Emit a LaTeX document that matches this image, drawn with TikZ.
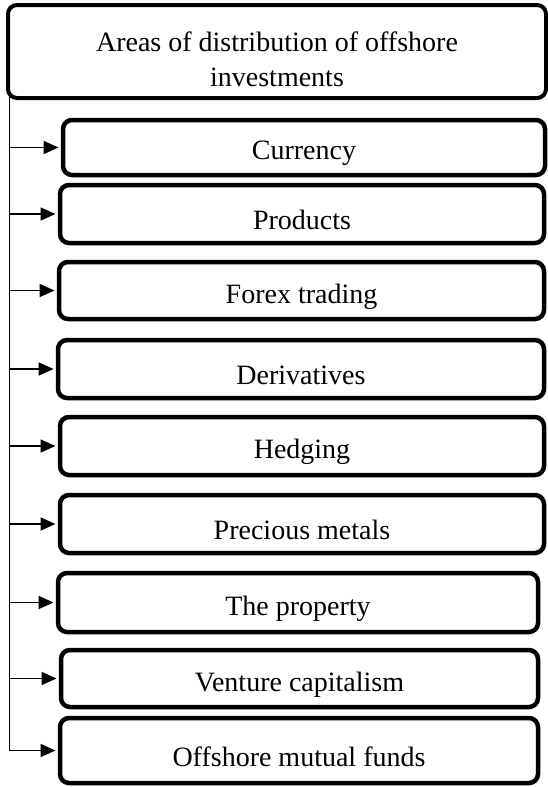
\documentclass[tikz,border=0pt]{standalone}
\usepackage{fontspec}
\setmainfont{Liberation Serif}
\usetikzlibrary{arrows.meta}
\tikzstyle{area}=[draw=black,line width=4.5pt,rounded corners=9pt,inner sep=0pt,align=center,font=\fontsize{28}{35}\selectfont]
\tikzstyle{feed}=[line width=1.8pt,-{Triangle[length=15pt,width=13pt]},shorten >=2.25pt]
\newcommand{\areabox}[6]{\node[area,minimum width=#4,minimum height=#5] (#1) at (#2,#3) {\raisebox{-6pt}[\height][\depth]{#6}};}

\begin{document}
\begin{tikzpicture}[x=1pt,y=1pt]
        \useasboundingbox (0,0) rectangle (547,-787);

        \node[area,line width=4pt,minimum width=538pt,minimum height=93pt] (top) at (277,-51.5) {\raisebox{-10pt}[\height][\depth]{\begin{tabular}{@{}c@{}}Areas of distribution of offshore\\investments\end{tabular}}};

        \areabox{cur}{304}{-147.5}{482pt}{55pt}{Currency}
        \areabox{prod}{302}{-214}{484pt}{58pt}{Products}
        \areabox{forex}{301.5}{-290.5}{485pt}{57pt}{Forex trading}
        \areabox{deriv}{301}{-369}{486pt}{58pt}{Derivatives}
        \areabox{hedge}{302}{-446}{484pt}{58pt}{Hedging}
        \areabox{metal}{302}{-524}{484pt}{58pt}{Precious metals}
        \areabox{prop}{298}{-602.5}{480pt}{59pt}{The property}
        \areabox{vent}{299.5}{-678.5}{477pt}{57pt}{Venture capitalism}
        \areabox{fund}{299}{-750.5}{478pt}{65pt}{Offshore mutual funds}

        \coordinate (trunk) at (9.5,-92);
        \draw[line width=1.8pt] (trunk) -- (trunk |- fund.west);
        \foreach \n in {cur,prod,forex,deriv,hedge,metal,prop,vent,fund}
            \draw[feed] (trunk |- \n.west) -- (\n.west);
\end{tikzpicture}
\end{document}
